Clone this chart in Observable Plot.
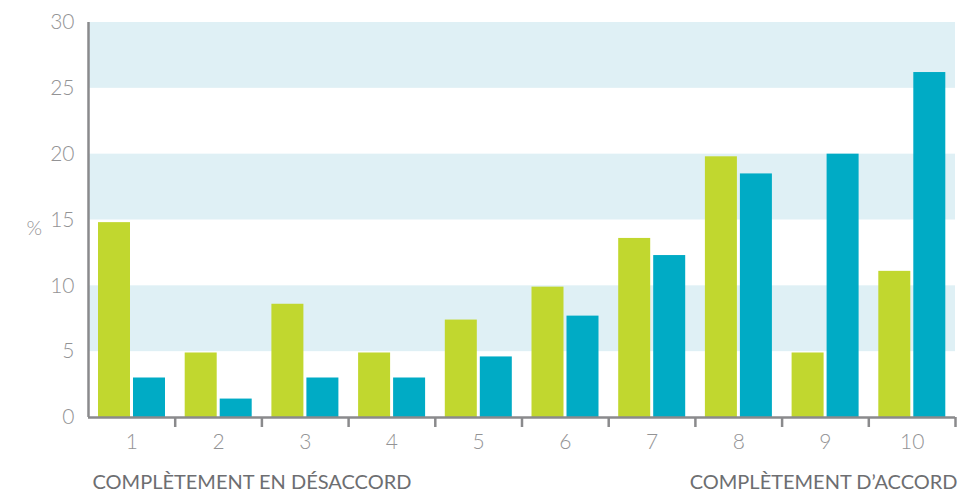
<!DOCTYPE html>
<html>
<head>
<meta charset="utf-8">
<script src="https://cdn.jsdelivr.net/npm/d3@7"></script>
<script src="https://cdn.jsdelivr.net/npm/@observablehq/plot@0.6"></script>
<style>
  html, body { margin: 0; padding: 0; background: #fff; }
</style>
</head>
<body>
<div id="chart"></div>
<script>
const categories = [1, 2, 3, 4, 5, 6, 7, 8, 9, 10];
const seriesGreen = [14.8, 4.9, 8.6, 4.9, 7.4, 9.9, 13.6, 19.8, 4.9, 11.1];
const seriesBlue = [3.0, 1.4, 3.0, 3.0, 4.6, 7.7, 12.3, 18.5, 20.0, 26.2];
const yTicks = [0, 5, 10, 15, 20, 25, 30];
const bands = [[5, 10], [15, 20], [25, 30]];
const leftCaption = "COMPLÈTEMENT EN DÉSACCORD";
const rightCaption = "COMPLÈTEMENT D’ACCORD";
const yLabel = "%";

const greenData = categories.map((c, i) => ({cat: c, value: seriesGreen[i]}));
const blueData = categories.map((c, i) => ({cat: c, value: seriesBlue[i]}));
const boundaries = categories.map(c => c + 0.5);

const axisColor = "#8a8a8c";
const labelColor = "#939395";

const chart = Plot.plot({
  width: 980,
  height: 491,
  marginLeft: 88,
  marginRight: 25,
  marginTop: 22,
  marginBottom: 74,
  style: {fontFamily: "Lato, 'Open Sans', sans-serif", fontWeight: 300, background: "#fff"},
  x: {domain: [0.5, 10.5], axis: null},
  y: {domain: [0, 30], axis: null},
  marks: [
    Plot.rectY(bands, {y1: d => d[0], y2: d => d[1], fill: "#dff0f5"}),
    Plot.rectY(greenData, {x1: d => d.cat - 0.5, x2: d => d.cat + 0.5, y: "value", fill: "#c1d72f", insetLeft: 10, insetRight: 44.7}),
    Plot.rectY(blueData, {x1: d => d.cat - 0.5, x2: d => d.cat + 0.5, y: "value", fill: "#00abc5", insetLeft: 45, insetRight: 9.7}),
    Plot.axisY({ticks: yTicks, tickSize: 0, tickPadding: 14, fontSize: 21, fill: labelColor, tickFormat: d => d, label: null}),
    Plot.axisX({ticks: categories, tickSize: 0, tickPadding: 17, fontSize: 21, fill: labelColor, tickFormat: d => d, label: null}),
    Plot.axisX({ticks: boundaries, tickSize: 10, stroke: axisColor, strokeWidth: 2.5, tickFormat: () => "", label: null}),
    Plot.ruleY([0], {stroke: axisColor, strokeWidth: 2.5}),
    Plot.ruleX([0.5], {y1: 0, y2: 30, stroke: axisColor, strokeWidth: 2.5}),
    Plot.text([yLabel], {text: d => d, frameAnchor: "left", dx: -62, dy: 9, fontSize: 20, fill: labelColor}),
    Plot.text([leftCaption], {x: 0.5, text: d => d, frameAnchor: "bottom", textAnchor: "start", lineAnchor: "bottom", dx: 4, dy: 71, fontSize: 20, fill: "#6d6e71", fontWeight: 400}),
    Plot.text([rightCaption], {x: 10.5, text: d => d, frameAnchor: "bottom", textAnchor: "end", lineAnchor: "bottom", dx: 2, dy: 71, fontSize: 20, fill: "#6d6e71", fontWeight: 400})
  ]
});
document.getElementById("chart").appendChild(chart);
</script>
</body>
</html>
